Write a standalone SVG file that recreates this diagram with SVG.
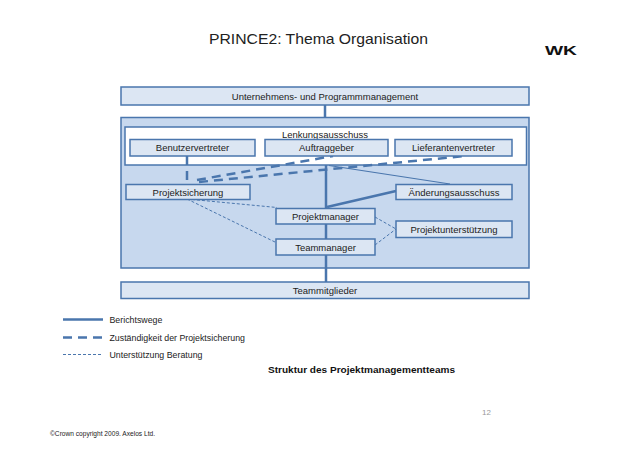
<svg xmlns="http://www.w3.org/2000/svg" width="638" height="451" viewBox="0 0 638 451">
<style>
.box{fill:#dce6f3;stroke:#4a76ad;stroke-width:1.5}
.t{font-family:"Liberation Sans",Arial,sans-serif;font-size:9.5px;fill:#222;text-anchor:middle}
.lg{font-family:"Liberation Sans",Arial,sans-serif;font-size:8.8px;fill:#222}
.solid{stroke:#4a76ad;stroke-width:2.5;fill:none}
.thin{stroke:#4a76ad;stroke-width:1.2;fill:none}
.dash{stroke:#4a76ad;stroke-width:2.5;fill:none;stroke-dasharray:9 6}
.dot{stroke:#4a76ad;stroke-width:1;fill:none;stroke-dasharray:3 2}
</style>
<rect width="638" height="451" fill="#fff"/>
<text x="318.5" y="44" font-family="Liberation Sans,Arial,sans-serif" font-size="15" fill="#222" text-anchor="middle" textLength="219" lengthAdjust="spacingAndGlyphs">PRINCE2: Thema Organisation</text>
<text x="545" y="55" font-family="Liberation Sans,Arial,sans-serif" font-size="13" font-weight="bold" fill="#111" textLength="32" lengthAdjust="spacingAndGlyphs">WK</text>

<g id="outer"><rect x="121" y="117.5" width="408" height="150.5" fill="#c7d8ee" stroke="#4a76ad" stroke-width="1.5"/></g>
<g id="lenkungsausschuss"><rect x="125" y="127" width="401.5" height="38" fill="#fff" stroke="#4a76ad" stroke-width="1.5"/><text class="t" x="325" y="137.5">Lenkungsausschuss</text></g>

<g id="connectors">
<line class="solid" x1="325" y1="105" x2="325" y2="117.5"/>
<line class="solid" x1="326" y1="165" x2="326" y2="208.5"/>
<line class="solid" x1="326" y1="224" x2="326" y2="239"/>
<line class="solid" x1="326" y1="255" x2="326" y2="282"/>
<line class="solid" x1="327" y1="207" x2="396" y2="191"/>
<line class="thin" x1="329" y1="165.5" x2="450" y2="184"/>
<line class="dash" x1="187" y1="156" x2="187" y2="184"/>
<line class="dash" x1="197" y1="180" x2="333" y2="156"/>
<line class="dash" x1="199" y1="182" x2="465" y2="156"/>
<line class="dot" x1="187" y1="199" x2="277" y2="207.5"/>
<line class="dot" x1="187" y1="199" x2="277" y2="243"/>
<line class="dot" x1="375" y1="217" x2="396" y2="229"/>
<line class="dot" x1="375" y1="245" x2="396" y2="229"/>
</g>

<g id="unternehmen"><rect class="box" x="121" y="87" width="408" height="18"/><text class="t" x="325" y="99.5">Unternehmens- und Programmmanagement</text></g>
<g id="benutzervertreter"><rect class="box" x="130" y="139.5" width="125" height="16.5"/><text class="t" x="192.5" y="151">Benutzervertreter</text></g>
<g id="auftraggeber"><rect class="box" x="265" y="139.5" width="123" height="16.5"/><text class="t" x="326.5" y="151">Auftraggeber</text></g>
<g id="lieferantenvertreter"><rect class="box" x="395" y="139.5" width="117" height="16.5"/><text class="t" x="453.5" y="151">Lieferantenvertreter</text></g>
<g id="projektsicherung"><rect class="box" x="126" y="184.5" width="124" height="15"/><text class="t" x="188" y="195.5">Projektsicherung</text></g>
<g id="aenderungsausschuss"><rect class="box" x="396" y="184.5" width="116" height="15"/><text class="t" x="454" y="195.5">Änderungsausschuss</text></g>
<g id="projektmanager"><rect class="box" x="276" y="208.5" width="99" height="15.5"/><text class="t" x="325.5" y="219.8">Projektmanager</text></g>
<g id="projektunterstuetzung"><rect class="box" x="396" y="221" width="116" height="16.5"/><text class="t" x="454" y="232.7">Projektunterstützung</text></g>
<g id="teammanager"><rect class="box" x="276" y="239" width="99" height="16"/><text class="t" x="325.5" y="250.5">Teammanager</text></g>
<g id="teammitglieder"><rect class="box" x="121" y="282" width="408" height="16.5"/><text class="t" x="325" y="293.7">Teammitglieder</text></g>

<g id="legend">
<line class="solid" x1="63" y1="319.5" x2="103" y2="319.5" stroke-width="2"/>
<text class="lg" x="109.5" y="322.5">Berichtswege</text>
<line class="dash" x1="63" y1="337.5" x2="103" y2="337.5" stroke-dasharray="10 6"/>
<text class="lg" x="109.5" y="340.5">Zuständigkeit der Projektsicherung</text>
<line class="dot" x1="63" y1="354.5" x2="103" y2="354.5"/>
<text class="lg" x="109.5" y="357.5">Unterstützung Beratung</text>
</g>
<text x="268" y="372.5" font-family="Liberation Sans,Arial,sans-serif" font-size="9.5" font-weight="bold" fill="#111" textLength="187" lengthAdjust="spacingAndGlyphs">Struktur des Projektmanagementteams</text>
<text x="482" y="414.5" font-family="Liberation Sans,Arial,sans-serif" font-size="8" fill="#999">12</text>
<text x="50" y="435.5" font-family="Liberation Sans,Arial,sans-serif" font-size="7" fill="#222" textLength="105" lengthAdjust="spacingAndGlyphs">©Crown copyright 2009. Axelos Ltd.</text>
</svg>
